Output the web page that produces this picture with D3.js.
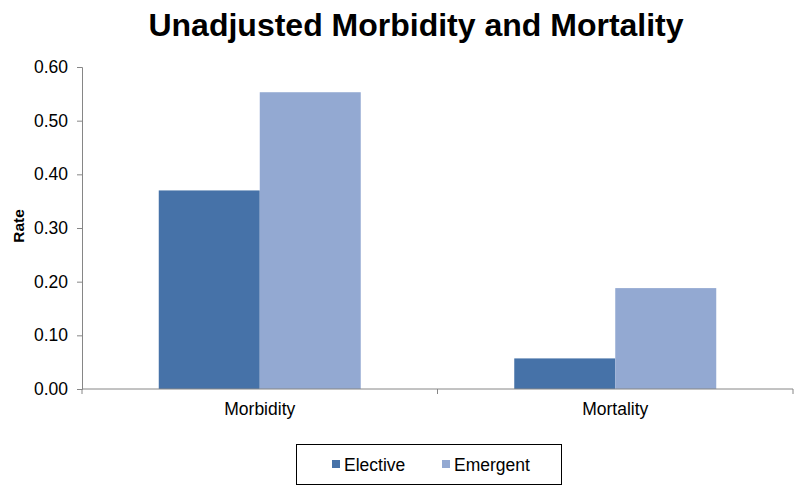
<!DOCTYPE html>
<html><head><meta charset="utf-8">
<script src="https://cdn.jsdelivr.net/npm/d3@7"></script>
<style>body{margin:0;background:#fff;}svg{display:block;font-family:"Liberation Sans",Arial,sans-serif;}</style>
</head><body><svg id="c" width="800" height="496"></svg>
<script>
const categories = ["Morbidity", "Mortality"];
const seriesNames = ["Elective", "Emergent"];
const elective = [0.37, 0.057];
const emergent = [0.553, 0.188];
const yTicks = [0, 0.1, 0.2, 0.3, 0.4, 0.5, 0.6];
const colors = ["#4672A8", "#93A9D2"];

const svg = d3.select("#c");
const mLeft = 82, mRight = 793, mTop = 67, mBottom = 389;
const x = d3.scaleBand().domain(categories).range([mLeft, mRight]).paddingInner(0).paddingOuter(0);
const y = d3.scaleLinear().domain([0, 0.6]).range([mBottom, mTop]);
const inner = d3.scaleBand().domain(seriesNames).range([0, x.bandwidth()]).paddingInner(0).paddingOuter(0.76);

svg.append("text").attr("x", 416).attr("y", 36).attr("text-anchor", "middle")
  .attr("font-size", 32).attr("font-weight", "bold").attr("fill", "#000")
  .text("Unadjusted Morbidity and Mortality");

const data = categories.map((c, i) => ({cat: c, vals: [elective[i], emergent[i]]}));
const g = svg.append("g");
data.forEach(d => {
  d.vals.forEach((v, j) => {
    g.append("rect").attr("x", x(d.cat) + inner(seriesNames[j])).attr("width", inner.bandwidth())
      .attr("y", y(v)).attr("height", y(0) - y(v)).attr("fill", colors[j]);
  });
});

const yAxis = d3.axisLeft(y).tickValues(yTicks).tickFormat(d3.format(".2f")).tickSizeOuter(0).tickSize(5).tickPadding(9);
const ya = svg.append("g").attr("transform", `translate(${mLeft},0)`).call(yAxis);
ya.selectAll("text").attr("font-size", 17.5).attr("fill", "#000").attr("font-family", "Liberation Sans, Arial, sans-serif");
ya.selectAll("line,path").attr("stroke", "#868686");

const xa = svg.append("g").attr("transform", `translate(0,${mBottom})`);
xa.append("line").attr("x1", mLeft).attr("x2", mRight).attr("stroke", "#868686");
[mLeft, x(categories[1]), mRight].forEach(p => xa.append("line").attr("x1", p).attr("x2", p).attr("y1", 0).attr("y2", 5).attr("stroke", "#868686"));
categories.forEach(c => xa.append("text").attr("x", x(c) + x.bandwidth() / 2).attr("y", 26)
  .attr("text-anchor", "middle").attr("font-size", 17.5).attr("fill", "#000").text(c));

svg.append("text").attr("transform", "translate(24,226) rotate(-90)").attr("text-anchor", "middle")
  .attr("font-size", 15.5).attr("font-weight", "bold").text("Rate");

const lg = svg.append("g");
lg.append("rect").attr("x", 296.5).attr("y", 444.5).attr("width", 265).attr("height", 40)
  .attr("fill", "#fff").attr("stroke", "#000").attr("stroke-width", 1);
const lx = [332, 442];
seriesNames.forEach((s, i) => {
  lg.append("rect").attr("x", lx[i]).attr("y", 460).attr("width", 8).attr("height", 8).attr("fill", colors[i]);
  lg.append("text").attr("x", lx[i] + 12).attr("y", 471).attr("font-size", 17.5).attr("fill", "#000").text(s);
});
</script></body></html>
